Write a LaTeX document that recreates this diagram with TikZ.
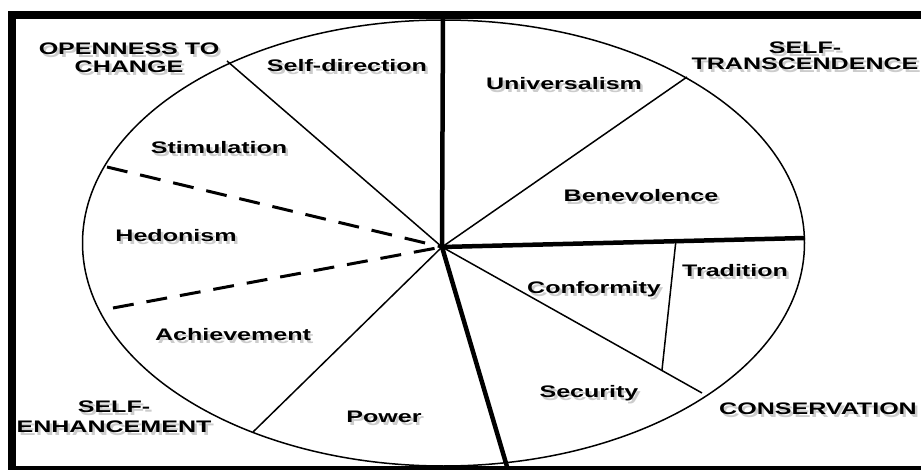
\documentclass[tikz,border=0pt]{standalone}
\usepackage{fontspec}
\newfontfamily\labfont{Liberation Sans}[FakeStretch=1.5]
\usetikzlibrary{calc}
\begin{document}
\begin{tikzpicture}[x=1pt,y=-1pt,
  lab/.style={font=\labfont\bfseries\fontsize{16.7}{18}\selectfont,
              inner sep=0pt, anchor=base, align=center},
  labshade/.style={lab, text=gray!40},
  rim/.style={line width=1.5pt},
  spoke/.style={line width=1.5pt},
  divider/.style={line width=4.5pt},
  dashspoke/.style={line width=3pt, dash pattern=on 21pt off 13pt},
  bar/.style={fill=black, draw=none}]

% canvas
\useasboundingbox (0,0) rectangle (921,470);
\fill[white] (0,0) rectangle (921,470);

% hub and rim points
\coordinate (O)       at (442,247);
\coordinate (topEnd)  at (443,14);
\coordinate (botEnd)  at (508,470);
\coordinate (rRight)  at (805,238);
\coordinate (rUniv)   at (687,77);
\coordinate (rSec)    at (702,393);
\coordinate (rPow)    at (253,432);
\coordinate (rSelf)   at (227,61);
\coordinate (rStim)   at (107,167);
\coordinate (rAch)    at (113,308);
\coordinate (tradTop) at (676,240);
\coordinate (tradBot) at (662,370);

% outline
\draw[rim] (443.5,243) ellipse [x radius=361, y radius=223];

% main dividers
\draw[divider] (topEnd) -- (O);
\draw[divider] (O) -- (rRight);
\draw[divider] (O) -- (botEnd);

% value boundaries
\draw[spoke] (O) -- (rUniv);
\draw[spoke] (O) -- (rSec);
\draw[spoke] (O) -- (rPow);
\draw[spoke] (O) -- (rSelf);
\draw[spoke] (tradTop) -- (tradBot);
\draw[dashspoke] (rStim) -- (O);
\draw[dashspoke] (rAch) -- (O);

% frame
\fill[bar] (8,11) rectangle (921,19);
\fill[bar] (8,11) rectangle (16,470);
\fill[bar] (8,466) rectangle (921,470);

% value labels with drop shadow
\foreach \n/\x/\y/\t in {
    selfdir/347/72/Self-direction,
    univ/564/90/Universalism,
    stim/219/154/Stimulation,
    bene/641/202/Benevolence,
    hedo/176/242/Hedonism,
    trad/735/277/Tradition,
    conf/594/294/Conformity,
    achi/233/341/Achievement,
    secu/589/397/Security,
    powe/384/422/Power,
    cons/818/414/CONSERVATION} {
  \node[labshade] at (\x+2.5,\y+3) {\t};
  \node[lab] (\n) at (\x,\y) {\t};
}

% higher-order dimensions (anchored on the last line's baseline)
\foreach \n/\x/\y/\t in {
    open/129/73/{OPENNESS TO\\[0pt]CHANGE},
    stran/805/70/{SELF-\\[-2pt]TRANSCENDENCE},
    senh/114/432/{SELF-\\[2pt]ENHANCEMENT}} {
  \node[labshade] at (\x+2.5,\y+3) {\t};
  \node[lab] (\n) at (\x,\y) {\t};
}
\end{tikzpicture}
\end{document}
